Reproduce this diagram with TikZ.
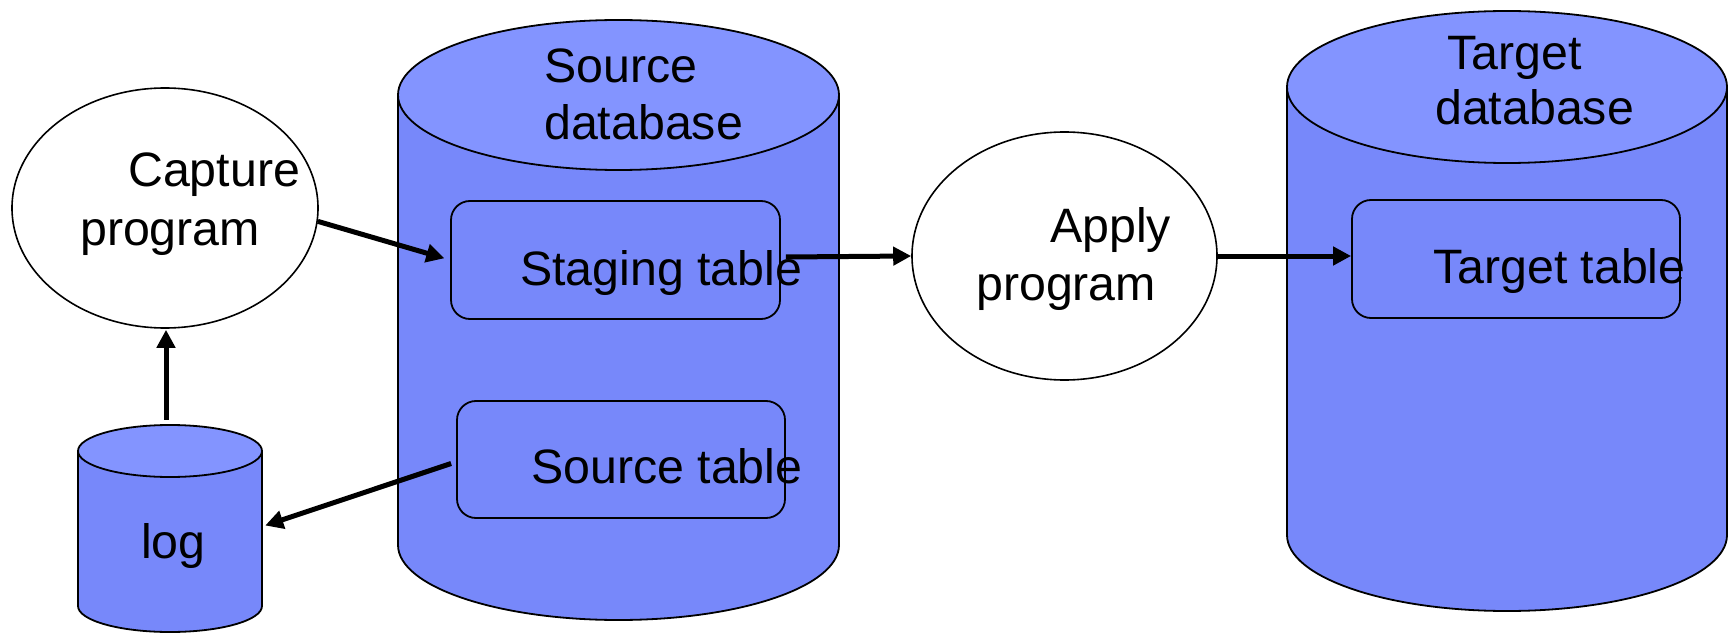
\documentclass[tikz,border=0pt]{standalone}
\usepackage{fontspec}
\setmainfont{Liberation Sans}
\usetikzlibrary{arrows.meta,shapes.geometric,calc}

\definecolor{dbbody}{RGB}{119,136,250}
\definecolor{dbtop}{RGB}{131,148,255}

% Upright database cylinder: name, centre x, x radius, top-ellipse centre y,
% bottom-ellipse centre y, y radius. Leaves a named node covering the cylinder.
\newcommand{\dbcylinder}[6]{%
  \path[cylbody] ({#2-#3},#4) -- ({#2-#3},#5)
    arc[start angle=180,end angle=360,x radius=#3pt,y radius=#6pt]
    -- ({#2+#3},#4) -- cycle;
  \path[cyltop] (#2,#4) ellipse[x radius=#3pt,y radius=#6pt];
  \node[inner sep=0pt,minimum width={2*#3pt},minimum height={(#4-#5+2*#6)*1pt}]
    (#1) at (#2,{(#4+#5)/2}) {};
}

\begin{document}
\begin{tikzpicture}[x=1pt,y=1pt,
  outline/.style={draw=black,line width=1.8pt},
  cylbody/.style={outline,fill=dbbody},
  cyltop/.style={outline,fill=dbtop},
  tablebox/.style={rectangle,outline,fill=dbbody,rounded corners=19pt,inner sep=0pt},
  program/.style={ellipse,draw=black,line width=1.6pt,fill=white,inner sep=0pt},
  lbl/.style={anchor=base west,inner sep=0pt,font=\fontsize{48.3}{58}\selectfont},
  flow/.style={line width=5pt,-{Triangle[length=18pt,width=18pt]}}]

\useasboundingbox (0,0) rectangle (1729,633);

% databases
\dbcylinder{srcdb}{618.5}{220.5}{538}{88}{75}
\dbcylinder{tgtdb}{1507}{220}{546}{98}{76}
\dbcylinder{log}{170}{92}{182}{27}{26}

% tables inside the databases
\node[tablebox,minimum width=329pt,minimum height=118pt] (staging) at (615.5,373) {};
\node[tablebox,minimum width=328pt,minimum height=117pt] (srctab) at (621,173.5) {};
\node[tablebox,minimum width=328pt,minimum height=118pt] (tgttab) at (1516,374) {};

% programs
\node[program,minimum width=306pt,minimum height=240pt] (capture) at (165,425) {};
\node[program,minimum width=305pt,minimum height=248pt] (apply) at (1064.5,377) {};

% labels
\node[lbl] (srcdb-a) at (544,550) {Source};
\node[lbl] (srcdb-b) at (544,493) {database};
\node[lbl] (tgtdb-a) at (1447,563) {Target};
\node[lbl] (tgtdb-b) at (1435,508) {database};
\node[lbl] (capture-a) at (128,446) {Capture};
\node[lbl] (capture-b) at (80,388) {program};
\node[lbl] (apply-a) at (1050,391) {Apply};
\node[lbl] (apply-b) at (976,333) {program};
\node[lbl] (staging-t) at (520,348) {Staging table};
\node[lbl] (srctab-t) at (531,150) {Source table};
\node[lbl] (tgttab-t) at (1433,350) {Target table};
\node[lbl] (log-t) at (141,75) {log};

% data flow
\draw[flow,shorten >=6pt] (capture.-5) -- (staging.west);
\draw[flow,shorten >=6pt] ([xshift=-4pt,yshift=5pt]log.north)
  -- ([xshift=-4pt,yshift=5pt]log.north |- capture.south);
\draw[flow] ($(srctab.west)+(-5,-4)$) -- ($(log.east)+(3,3)$);
\draw[flow] ($(staging.east)+(5,3)$) -- (apply.west);
\draw[flow] (apply.east) -- (apply.east -| tgttab.west);
\end{tikzpicture}
\end{document}
